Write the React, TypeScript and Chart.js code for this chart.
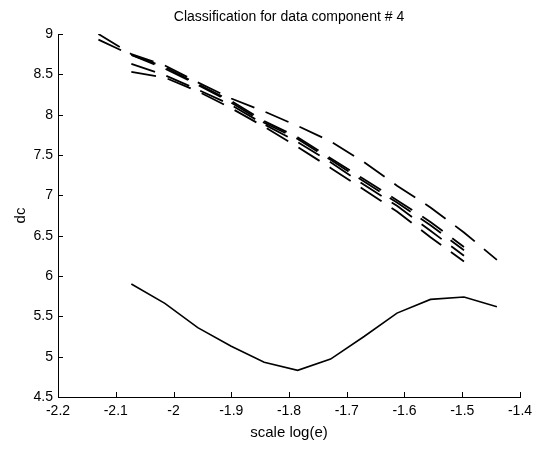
import React, { useEffect, useRef } from "react";
import { Chart, registerables } from "chart.js";

Chart.register(...registerables);

// x positions (scale log(e)) shared by all curves
const X_GRID = [-2.13, -2.073, -2.015, -1.958, -1.9, -1.843, -1.785, -1.728, -1.67, -1.613, -1.555, -1.497, -1.44];

// dashed curves: start index into X_GRID + values
const DASH_A_START = 0;
const DASH_A = [9.0, 8.75, 8.61, 8.40, 8.20, 8.04, 7.86, 7.67, 7.41, 7.12, 6.85, 6.54, 6.20];
const DASH_B_START = 0;
const DASH_B = [8.93, 8.74, 8.59, 8.38, 8.17, 7.92, 7.72, 7.46, 7.20, 6.94, 6.67, 6.36];
const DASH_C_START = 1;
const DASH_C = [8.74, 8.57, 8.37, 8.15, 7.90, 7.70, 7.44, 7.17, 6.91, 6.63, 6.32];
const DASH_D_START = 1;
const DASH_D = [8.63, 8.49, 8.31, 8.12, 7.88, 7.66, 7.41, 7.13, 6.87, 6.56, 6.25];
const DASH_E_START = 1;
const DASH_E = [8.53, 8.46, 8.29, 8.08, 7.85, 7.60, 7.34, 7.07, 6.80, 6.48, 6.18];

// solid curve
const SOLID_START = 1;
const SOLID = [5.90, 5.66, 5.36, 5.13, 4.93, 4.83, 4.97, 5.25, 5.54, 5.71, 5.74, 5.62];

const X_MIN = -2.2;
const X_MAX = -1.4;
const Y_MIN = 4.5;
const Y_MAX = 9;

const TITLE = "Classification for data component # 4";
const X_LABEL = "scale log(e)";
const Y_LABEL = "dc";

const FONT = "'Liberation Sans', Arial, Helvetica, sans-serif";

function toPoints(start: number, values: number[]) {
  return values.map((v, i) => ({ x: X_GRID[start + i], y: v }));
}

const innerTicks = {
  id: "innerTicks",
  afterDraw(chart: any) {
    const ctx = chart.ctx;
    const { left, bottom } = chart.chartArea;
    const xs = chart.scales.x;
    const ys = chart.scales.y;
    ctx.save();
    ctx.strokeStyle = "#000";
    ctx.lineWidth = 1;
    ctx.beginPath();
    xs.ticks.forEach((t: any) => {
      const px = Math.round(xs.getPixelForValue(t.value)) + 0.5;
      ctx.moveTo(px, bottom);
      ctx.lineTo(px, bottom - 5);
    });
    ys.ticks.forEach((t: any) => {
      const py = Math.round(ys.getPixelForValue(t.value)) + 0.5;
      ctx.moveTo(left, py);
      ctx.lineTo(left + 5, py);
    });
    ctx.stroke();
    ctx.restore();
  },
};

export default function App() {
  const ref = useRef<HTMLCanvasElement | null>(null);
  useEffect(() => {
    document.body.style.margin = "0";
    const dashed = (start: number, vals: number[]) => ({
      data: toPoints(start, vals),
      borderColor: "#000",
      borderWidth: 1.8,
      borderDash: [25, 12],
      pointRadius: 0,
      fill: false,
      tension: 0,
    });
    const chart = new Chart(ref.current as HTMLCanvasElement, {
      type: "line",
      data: {
        datasets: [
          dashed(DASH_A_START, DASH_A),
          dashed(DASH_B_START, DASH_B),
          dashed(DASH_C_START, DASH_C),
          dashed(DASH_D_START, DASH_D),
          dashed(DASH_E_START, DASH_E),
          {
            data: toPoints(SOLID_START, SOLID),
            borderColor: "#000",
            borderWidth: 1.6,
            pointRadius: 0,
            fill: false,
            tension: 0,
          },
        ],
      } as any,
      options: {
        animation: false,
        responsive: false,
        parsing: false as any,
        layout: { padding: { left: 0, right: 19, top: 0, bottom: 0 } },
        plugins: {
          legend: { display: false },
          tooltip: { enabled: false },
          title: {
            display: true,
            fullSize: false,
            text: TITLE,
            color: "#000",
            font: { family: FONT, size: 14, weight: "normal" as any },
            padding: { top: 9, bottom: 8.2 },
          },
        },
        scales: {
          x: {
            type: "linear",
            min: X_MIN,
            max: X_MAX,
            afterFit(scale: any) {
              scale.height = 52;
            },
            ticks: {
              stepSize: 0.1,
              color: "#000",
              padding: 6,
              maxRotation: 0,
              font: { family: FONT, size: 14 },
              callback: (v: any) => String(Math.round(Number(v) * 10) / 10),
            },
            grid: { display: true, drawOnChartArea: false, drawTicks: false },
            border: { display: true, color: "#000", width: 1 },
            title: {
              display: true,
              text: X_LABEL,
              color: "#000",
              font: { family: FONT, size: 15 },
              padding: { top: 0, bottom: 7 },
            },
          },
          y: {
            type: "linear",
            min: Y_MIN,
            max: Y_MAX,
            afterFit(scale: any) {
              scale.width = 58;
            },
            ticks: {
              stepSize: 0.5,
              color: "#000",
              padding: 5,
              font: { family: FONT, size: 14 },
              callback: (v: any) => String(Math.round(Number(v) * 10) / 10),
            },
            grid: { display: true, drawOnChartArea: false, drawTicks: false },
            border: { display: true, color: "#000", width: 1 },
            title: {
              display: true,
              text: Y_LABEL,
              color: "#000",
              font: { family: FONT, size: 15 },
              padding: { top: 12, bottom: 0 },
            },
          },
        },
      } as any,
      plugins: [innerTicks],
    });
    return () => chart.destroy();
  }, []);
  return (
    <div style={{ width: 539, height: 449 }}>
      <canvas ref={ref} width={539} height={449} />
    </div>
  );
}
